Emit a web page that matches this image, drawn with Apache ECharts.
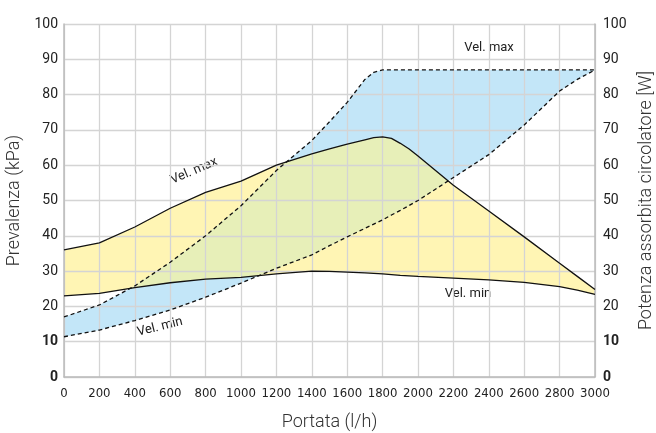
<!DOCTYPE html>
<html>
<head>
<meta charset="utf-8">
<script src="https://cdn.jsdelivr.net/npm/echarts@6/dist/echarts.min.js"></script>
<style>
  html, body { margin: 0; padding: 0; background: #fff; }
  #chart { width: 656px; height: 433px; }
</style>
</head>
<body>
<div id="chart"></div>
<script>
// portata (l/h)
const portata = [0, 200, 400, 600, 800, 1000, 1200, 1400, 1500, 1600, 1700, 1750, 1800, 1850, 1900, 1950, 2000, 2200, 2400, 2600, 2800, 2900, 3000];
// prevalenza kPa, vel. max / vel. min
const prevMax = [36, 38, 42.5, 47.8, 52.3, 55.5, 60, 63.2, 64.6, 66, 67.2, 67.8, 68, 67.6, 66.2, 64.6, 62.6, 54.3, 47, 39.7, 32.2, 28.5, 24.8];
const prevMin = [23, 23.7, 25.3, 26.7, 27.7, 28.2, 29.2, 30, 29.9, 29.7, 29.5, 29.35, 29.2, 29, 28.8, 28.65, 28.5, 28, 27.5, 26.8, 25.6, 24.6, 23.4];
// potenza assorbita W, vel. max / vel. min
const potMax = [17, 20.4, 25.8, 32.5, 40, 48.5, 58.5, 67, 72.3, 77.8, 84.3, 86.3, 87, 87, 87, 87, 87, 87, 87, 87, 87, 87, 87];
const potMin = [11.4, 13.3, 16, 19, 22.6, 26.6, 30.8, 34.6, 37.2, 39.7, 42.1, 43.3, 44.5, 45.9, 47.2, 48.6, 50, 56.5, 63, 71.4, 81, 84.3, 87];

function interp(ys, x) {
  for (let i = 0; i < portata.length - 1; i++) {
    if (x >= portata[i] && x <= portata[i + 1]) {
      const t = (x - portata[i]) / (portata[i + 1] - portata[i]);
      return ys[i] + t * (ys[i + 1] - ys[i]);
    }
  }
  return ys[ys.length - 1];
}

// contorno di una banda (alto e basso) campionato fitto, solo dove alto >= basso
function band(upFn, loFn) {
  const top = [], bot = [];
  for (let x = 0; x <= 3000; x += 5) {
    const u = upFn(x), l = loFn(x);
    if (u >= l) { top.push([x, u]); bot.push([x, l]); }
  }
  return top.concat(bot.reverse());
}

const bandPrev = band(x => interp(prevMax, x), x => interp(prevMin, x));
const bandPot = band(x => interp(potMax, x), x => interp(potMin, x));
const bandBoth = band(
  x => Math.min(interp(prevMax, x), interp(potMax, x)),
  x => Math.max(interp(prevMin, x), interp(potMin, x))
);

function fillSeries(pts, color) {
  return {
    type: 'custom',
    z: -1,
    silent: true,
    data: [[0, 0]],
    renderItem: function (params, api) {
      return {
        type: 'polygon',
        shape: { points: pts.map(p => api.coord(p)) },
        style: { fill: color }
      };
    }
  };
}

function lineSeries(ys, dashed, yIndex) {
  return {
    type: 'line',
    yAxisIndex: yIndex,
    data: portata.map((x, i) => [x, ys[i]]),
    symbol: 'none',
    z: 5,
    lineStyle: { color: '#111', width: 1.3, type: dashed ? [4, 3] : 'solid' }
  };
}

const tickFmt = v => (v === 0 || v === 10) ? '{b|' + v + '}' : String(v);
const tickRich = { b: { fontWeight: 'bold', fontSize: 14, color: '#222', fontFamily: 'Roboto' } };

const chart = echarts.init(document.getElementById('chart'));
chart.setOption({
  animation: false,
  grid: { left: 64, right: 61, top: 24, bottom: 56, outerBoundsMode: 'none' },
  xAxis: {
    type: 'value', min: 0, max: 3000, interval: 200,
    name: 'Portata (l/h)', nameLocation: 'middle', nameGap: 36,
    nameTextStyle: { fontSize: 18, color: '#333', fontFamily: 'Roboto', fontWeight: 300 },
    axisLine: { show: true, lineStyle: { color: '#bbb', width: 1.5 } },
    axisTick: { show: false },
    axisLabel: { fontSize: 13, color: '#222', fontFamily: '"DejaVu Sans Condensed", "Liberation Sans Narrow", Roboto', margin: 10, formatter: v => String(v) },
    splitLine: { show: true, lineStyle: { color: '#d4d4d4', width: 1.3 } }
  },
  yAxis: [
    {
      type: 'value', min: 0, max: 100, interval: 10, position: 'left',
      name: 'Prevalenza (kPa)', nameLocation: 'middle', nameGap: 38,
      nameTextStyle: { fontSize: 18, color: '#333', fontFamily: 'Roboto', fontWeight: 300 },
      axisLine: { show: true, lineStyle: { color: '#bbb', width: 1.5 } },
      axisTick: { show: false },
      axisLabel: { fontSize: 14, color: '#222', fontFamily: 'Roboto', margin: 6, formatter: tickFmt, rich: tickRich },
      splitLine: { show: true, lineStyle: { color: '#d4d4d4', width: 1.3 } }
    },
    {
      type: 'value', min: 0, max: 100, interval: 10, position: 'right',
      name: 'Potenza assorbita circolatore [W]', nameLocation: 'middle', nameGap: 38,
      nameRotate: 90,
      nameTextStyle: { fontSize: 18, color: '#333', fontFamily: 'Roboto', fontWeight: 300 },
      axisLine: { show: true, lineStyle: { color: '#bbb', width: 1.5 } },
      axisTick: { show: false },
      axisLabel: { fontSize: 14, color: '#222', fontFamily: 'Roboto', margin: 8, formatter: tickFmt, rich: tickRich },
      splitLine: { show: false }
    }
  ],
  graphic: [
    { type: 'text', x: 194, y: 171, rotation: 23 * Math.PI / 180,
      style: { text: 'Vel. max', font: '13px Roboto', fill: '#222', align: 'center', verticalAlign: 'middle' } },
    { type: 'text', x: 160, y: 327, rotation: 14 * Math.PI / 180,
      style: { text: 'Vel. min', font: '13px Roboto', fill: '#222', align: 'center', verticalAlign: 'middle' } },
    { type: 'text', x: 489, y: 48,
      style: { text: 'Vel. max', font: '13px Roboto', fill: '#222', align: 'center', verticalAlign: 'middle' } },
    { type: 'text', x: 468, y: 294,
      style: { text: 'Vel. min', font: '13px Roboto', fill: '#222', align: 'center', verticalAlign: 'middle' } }
  ],
  series: [
    fillSeries(bandPrev, '#fff5b4'),
    fillSeries(bandPot, '#c3e6f8'),
    fillSeries(bandBoth, '#e7efb8'),
    lineSeries(prevMax, false, 0),
    lineSeries(prevMin, false, 0),
    lineSeries(potMax, true, 1),
    lineSeries(potMin, true, 1)
  ]
});
</script>
</body>
</html>
